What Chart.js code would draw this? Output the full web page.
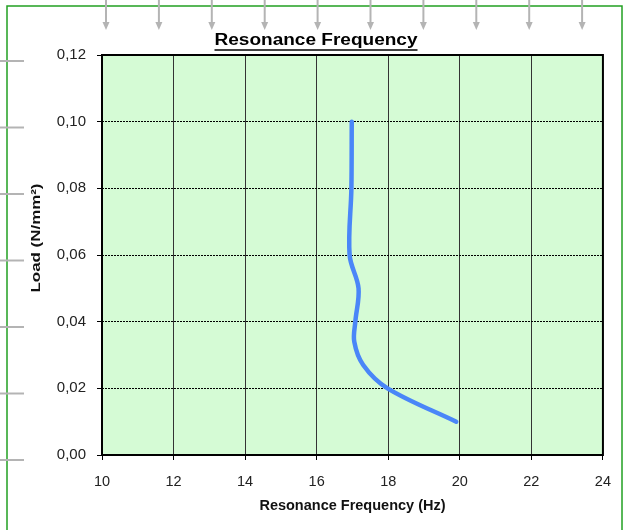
<!DOCTYPE html>
<html>
<head>
<meta charset="utf-8">
<script src="https://cdn.jsdelivr.net/npm/chart.js@4/dist/chart.umd.min.js"></script>
<style>
  html, body { margin: 0; padding: 0; background: #fff; }
  #wrap { width: 624px; height: 530px; }
</style>
</head>
<body>
<div id="wrap"><canvas id="resChart" width="624" height="530"></canvas></div>
<script>
// values
var loads = [0.01, 0.02, 0.027, 0.034, 0.04, 0.05, 0.06, 0.08, 0.10];
var freqs = [19.9, 17.98, 17.3, 17.05, 17.08, 17.17, 16.92, 16.97, 16.98];
var xTicks = [10, 12, 14, 16, 18, 20, 22, 24];
var yTicks = [0, 0.02, 0.04, 0.06, 0.08, 0.10, 0.12];

var points = [];
for (var i = 0; i < loads.length; i++) {
	points.push({ x: freqs[i], y: loads[i] });
}

var fontFam = 'Arial, "Liberation Sans", sans-serif';

// background, frame, titles and the grey marks around the chart
var decor = {
	id: 'decor',
	beforeDraw: function(chart) {
		var c = chart.ctx, a = chart.chartArea;
		c.save();
		c.fillStyle = '#d5fbd5';
		c.fillRect(a.left, a.top, a.right - a.left, a.bottom - a.top);
		c.restore();
	},
	afterDraw: function(chart) {
		var c = chart.ctx, a = chart.chartArea;
		c.save();
		// plot frame
		c.strokeStyle = '#000';
		c.lineWidth = 2;
		c.strokeRect(a.left, a.top, a.right - a.left, a.bottom - a.top);
		// outer green border
		c.strokeStyle = '#22a022';
		c.lineWidth = 1.5;
		c.strokeRect(7, 6, 615, 540);
		// grey ticks on left edge
		c.strokeStyle = '#b4b4b4';
		c.lineWidth = 2;
		for (var k = 0; k < 7; k++) {
			var yy = 61 + k * 66.5;
			c.beginPath(); c.moveTo(0, yy); c.lineTo(24, yy); c.stroke();
		}
		// grey arrows at the top
		c.fillStyle = '#b4b4b4';
		for (var j = 0; j < 10; j++) {
			var xx = 106 + j * 52.9;
			c.beginPath(); c.moveTo(xx, 0); c.lineTo(xx, 24); c.stroke();
			c.beginPath(); c.moveTo(xx - 3.5, 22); c.lineTo(xx + 3.5, 22); c.lineTo(xx, 30); c.closePath(); c.fill();
		}
		// chart title, underlined
		c.fillStyle = '#000';
		c.strokeStyle = '#000';
		c.font = 'bold 16px ' + fontFam;
		c.textAlign = 'center';
		c.textBaseline = 'middle';
		var t = 'Resonance Frequency';
		var w = c.measureText(t).width;
		c.save();
		c.translate(316, 41);
		c.scale(203 / w, 1);
		c.fillText(t, 0, 0);
		c.restore();
		c.lineWidth = 1.5;
		c.beginPath(); c.moveTo(316 - 101.5, 50); c.lineTo(316 + 101.5, 50); c.stroke();
		// y axis title
		c.save();
		c.translate(36, 238);
		c.rotate(-Math.PI / 2);
		c.font = 'bold 13px ' + fontFam;
		c.fillStyle = '#111';
		var yt = 'Load (N/mm²)';
		c.scale(109 / c.measureText(yt).width, 1);
		c.fillText(yt, 0, 0);
		c.restore();
		c.restore();
	}
};

var ctx = document.getElementById('resChart').getContext('2d');
var myChart = new Chart(ctx, {
	type: 'scatter',
	data: {
		datasets: [{
			data: points,
			showLine: true,
			borderColor: '#4a86f8',
			borderWidth: 4.5,
			borderCapStyle: 'round',
			pointRadius: 0,
			tension: 0.35,
			fill: false
		}]
	},
	options: {
		responsive: false,
		animation: false,
		layout: { padding: { left: 0, right: 20, top: 55, bottom: 0 } },
		plugins: {
			legend: { display: false },
			tooltip: { enabled: false }
		},
		scales: {
			x: {
				type: 'linear',
				min: 10, max: 24,
				afterBuildTicks: function(s) { s.ticks = xTicks.map(function(v) { return { value: v }; }); },
				afterFit: function(s) { s.height = 75; },
				grid: { color: '#333', lineWidth: 1, tickLength: 5, tickColor: '#000' },
				border: { display: false },
				ticks: { padding: 13, color: '#222', font: { family: fontFam, size: 14.5 }, maxRotation: 0 },
				title: { display: true, text: 'Resonance Frequency (Hz)', color: '#111', font: { family: fontFam, size: 14.5, weight: 'bold' }, padding: { top: 0, bottom: 15 } }
			},
			y: {
				type: 'linear',
				min: 0, max: 0.12,
				afterBuildTicks: function(s) { s.ticks = yTicks.map(function(v) { return { value: v }; }); },
				afterFit: function(s) { s.width = 102; },
				grid: { color: '#000', lineWidth: 1, tickLength: 5, tickColor: '#000', tickBorderDash: [] },
				border: { display: false, dash: [2, 1] },
				ticks: {
					padding: 11, color: '#222', font: { family: fontFam, size: 15 },
					callback: function(v) { return v.toFixed(2).replace('.', ','); }
				}
			}
		}
	},
	plugins: [decor]
});
</script>
</body>
</html>
